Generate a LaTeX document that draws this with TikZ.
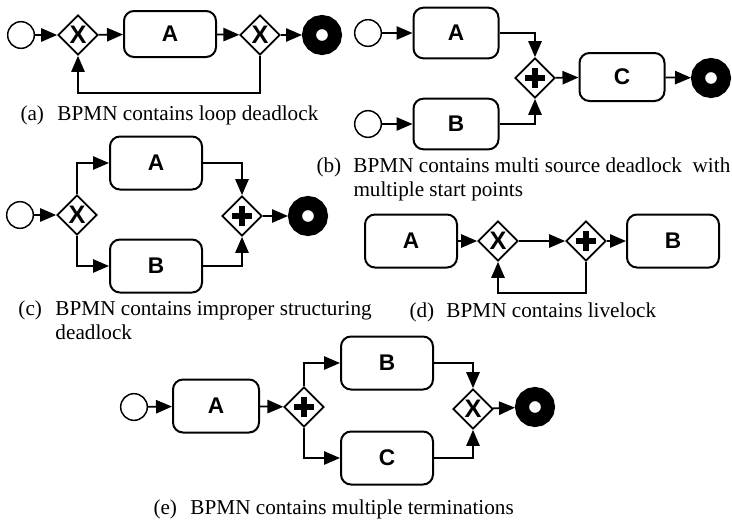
\documentclass[tikz,border=0pt]{standalone}
\usepackage{fontspec}
\setmainfont{Liberation Serif}
\newfontfamily\bpmnfont{Liberation Sans}
\usetikzlibrary{shapes.geometric,arrows.meta}

\newcommand{\subcap}[1]{\makebox[27.75pt][l]{#1}}

\tikzset{every picture/.style={line width=0.75pt}}
\tikzset{
  task/.style={draw, rounded corners=7.5pt, line width=1.5pt, minimum width=69pt, minimum height=39.75pt, inner sep=0pt, font=\bpmnfont\bfseries\fontsize{17}{17}\selectfont},
  gate/.style={draw, diamond, line width=1.3pt, minimum width=30pt, minimum height=30pt, inner sep=0pt, font=\bpmnfont\bfseries\fontsize{19}{19}\selectfont},
  plusgate/.style={gate, path picture={
    \draw[line width=4.5pt] ([xshift=-7.5pt]path picture bounding box.center) -- ([xshift=7.5pt]path picture bounding box.center);
    \draw[line width=4.5pt] ([yshift=-7.5pt]path picture bounding box.center) -- ([yshift=7.5pt]path picture bounding box.center);}},
  startev/.style={draw, circle, line width=1.1pt, minimum size=20pt, inner sep=0pt},
  endev/.style={draw, circle, line width=10.5pt, minimum size=19.5pt, inner sep=0pt},
  flow/.style={-{Triangle[length=12pt,width=10pt]}, line width=1.3pt},
  caption/.style={anchor=west, inner sep=0pt, font=\fontsize{15.9}{18}\selectfont}
}

\begin{document}
\begin{tikzpicture}[x=0.75pt,y=0.75pt,yscale=-1,xscale=1]
\useasboundingbox (0,0) rectangle (732,525);

% (a) loop deadlock
\node[startev] (sa) at (21,35) {};
\node[gate] (xa1) at (78,35) {X};
\node[task, minimum height=34.5pt] (ta) at (170,34) {A};
\node[gate] (xa2) at (260,35) {X};
\node[endev] (ea) at (322,35) {};
\draw[flow] (sa) -- (xa1);
\draw[flow] (xa1) -- (ta);
\draw[flow] (ta) -- (xa2);
\draw[flow] (xa2) -- (ea);
\draw[flow] (xa2.south) -- ++(0,37) -| (xa1.south);
\node[caption] (capa) at (20,115) {\subcap{(a)}BPMN contains loop deadlock};

% (b) multi source deadlock
\node[startev] (sb1) at (368,33) {};
\node[task, minimum width=63.75pt, minimum height=38pt] (tb1) at (456,33) {A};
\node[startev] (sb2) at (368,124) {};
\node[task, minimum width=63.75pt, minimum height=38pt] (tb2) at (456,124) {B};
\node[plusgate] (pb) at (535,78) {};
\node[task, minimum width=63.75pt, minimum height=36pt] (tb3) at (622,77) {C};
\node[endev] (eb) at (711,78) {};
\draw[flow] (sb1) -- (tb1);
\draw[flow] (sb2) -- (tb2);
\draw[flow] (tb1.east) -| (pb.north);
\draw[flow] (tb2.east) -| (pb.south);
\draw[flow] (pb) -- (tb3);
\draw[flow] (tb3) -- (eb);
\node[caption] (capb) at (316,179.5) {\begin{tabular}{@{}l@{}}\subcap{(b)}BPMN contains multi source deadlock\ \ with\\ \subcap{}multiple start points\end{tabular}};

% (c) improper structuring deadlock
\node[startev] (sc) at (20,215) {};
\node[gate] (xc) at (77,215) {X};
\node[task] (tc1) at (156,163) {A};
\node[task] (tc2) at (156,266) {B};
\node[plusgate] (pc) at (242,216) {};
\node[endev] (ec) at (308,216) {};
\draw[flow] (sc) -- (xc);
\draw[flow] (xc.north) |- (tc1.west);
\draw[flow] (xc.south) |- (tc2.west);
\draw[flow] (tc1.east) -| (pc.north);
\draw[flow] (tc2.east) -| (pc.south);
\draw[flow] (pc) -- (ec);
\node[caption] (capc) at (18,322.5) {\begin{tabular}{@{}l@{}}\subcap{(c)}BPMN contains improper structuring\\ \subcap{}deadlock\end{tabular}};

% (d) livelock
\node[task] (td1) at (411,241) {A};
\node[gate] (xd) at (498,241) {X};
\node[plusgate] (pd) at (586,241) {};
\node[task] (td2) at (673,241) {B};
\draw[flow] (td1) -- (xd);
\draw[flow] (xd) -- (pd);
\draw[flow] (pd) -- (td2);
\draw[flow] (pd.south) -- ++(0,31) -| (xd.south);
\node[caption] (capd) at (409,312) {\subcap{(d)}BPMN contains livelock};

% (e) multiple terminations
\node[startev] (se) at (134,407) {};
\node[task, minimum width=64.5pt] (te1) at (216,406) {A};
\node[plusgate] (pe) at (304,407) {};
\node[task] (te2) at (387,363) {B};
\node[task] (te3) at (387,458) {C};
\node[gate] (xe) at (473,409) {X};
\node[endev] (ee) at (535,407) {};
\draw[flow] (se) -- (te1);
\draw[flow] (te1) -- (pe);
\draw[flow] (pe.north) |- (te2.west);
\draw[flow] (pe.south) |- (te3.west);
\draw[flow] (te2.east) -| (xe.north);
\draw[flow] (te3.east) -| (xe.south);
\draw[flow] (xe) -- (ee);
\node[caption] (cape) at (153,509) {\subcap{(e)}BPMN contains multiple terminations};

\end{tikzpicture}
\end{document}
